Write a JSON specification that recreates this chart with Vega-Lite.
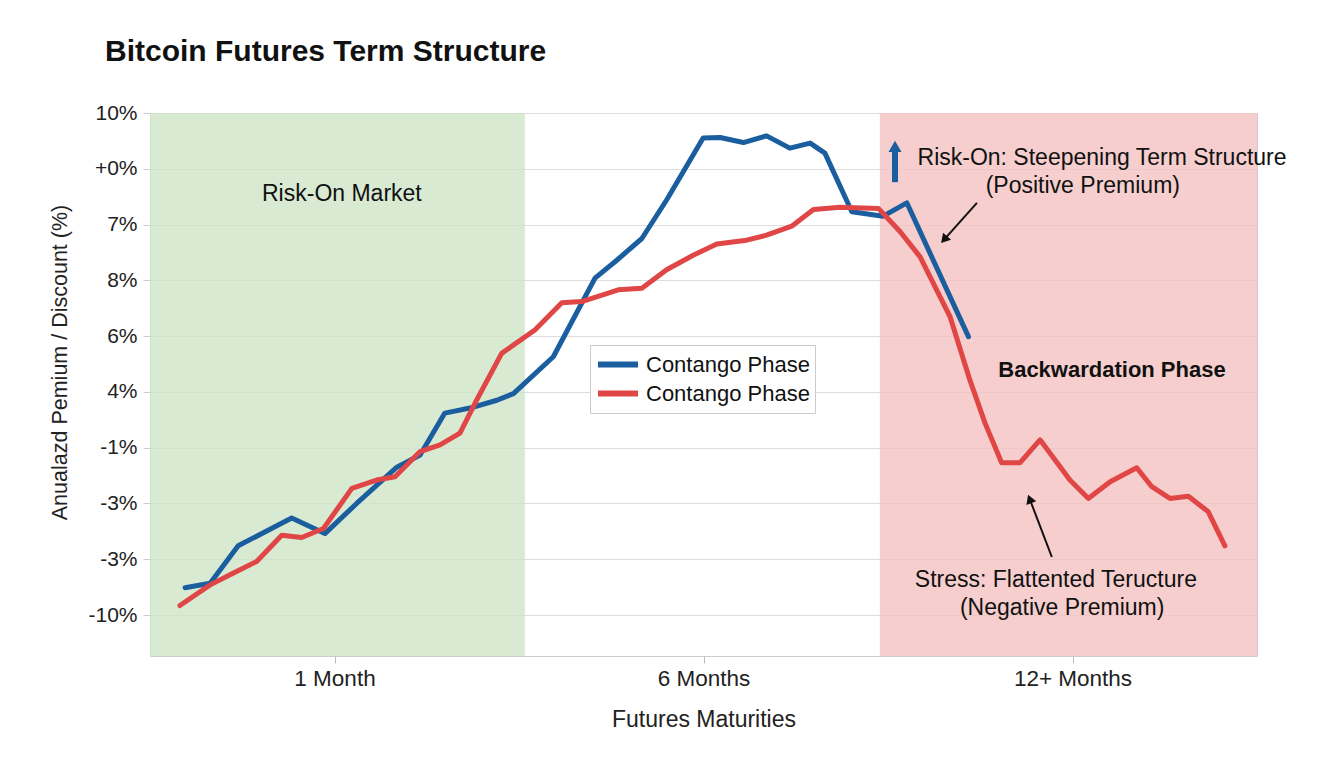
{
  "$schema": "https://vega.github.io/schema/vega-lite/v6.json",
  "width": 1107,
  "height": 543,
  "autosize": {"type": "none"},
  "padding": {"left": 150, "top": 113, "right": 87, "bottom": 112},
  "background": "white",
  "config": {
    "font": "Liberation Sans",
    "view": {"stroke": "#cccccc", "strokeWidth": 1}
  },
  "title": {
    "text": "Bitcoin Futures Term Structure",
    "anchor": "start",
    "frame": "group",
    "fontSize": 30,
    "fontWeight": "bold",
    "color": "#111111",
    "dx": -45,
    "offset": 35
  },
  "datasets": {
    "regions": [
      {"region": "Risk-On", "start": 0, "end": 10.16},
      {"region": "Backwardation", "start": 19.78, "end": 30}
    ],
    "series": [
      {"series": "blue", "x": 0.95, "y": 0.49},
      {"series": "blue", "x": 1.63, "y": 0.57},
      {"series": "blue", "x": 2.39, "y": 1.24},
      {"series": "blue", "x": 3.84, "y": 1.74},
      {"series": "blue", "x": 4.74, "y": 1.46},
      {"series": "blue", "x": 5.6, "y": 2.0},
      {"series": "blue", "x": 6.69, "y": 2.65},
      {"series": "blue", "x": 7.32, "y": 2.87},
      {"series": "blue", "x": 7.99, "y": 3.62},
      {"series": "blue", "x": 8.67, "y": 3.71},
      {"series": "blue", "x": 9.4, "y": 3.85},
      {"series": "blue", "x": 9.85, "y": 3.97},
      {"series": "blue", "x": 10.93, "y": 4.63},
      {"series": "blue", "x": 12.06, "y": 6.04},
      {"series": "blue", "x": 12.65, "y": 6.36},
      {"series": "blue", "x": 13.33, "y": 6.75},
      {"series": "blue", "x": 14.0, "y": 7.44},
      {"series": "blue", "x": 14.99, "y": 8.55},
      {"series": "blue", "x": 15.45, "y": 8.56},
      {"series": "blue", "x": 16.08, "y": 8.47},
      {"series": "blue", "x": 16.71, "y": 8.59},
      {"series": "blue", "x": 17.34, "y": 8.37},
      {"series": "blue", "x": 17.89, "y": 8.46},
      {"series": "blue", "x": 18.29, "y": 8.28},
      {"series": "blue", "x": 19.02, "y": 7.23},
      {"series": "blue", "x": 19.87, "y": 7.15},
      {"series": "blue", "x": 20.51, "y": 7.39},
      {"series": "blue", "x": 22.18, "y": 4.99},
      {"series": "red", "x": 0.81, "y": 0.17},
      {"series": "red", "x": 1.63, "y": 0.54},
      {"series": "red", "x": 2.25, "y": 0.75},
      {"series": "red", "x": 2.89, "y": 0.96},
      {"series": "red", "x": 3.57, "y": 1.43},
      {"series": "red", "x": 4.11, "y": 1.39},
      {"series": "red", "x": 4.7, "y": 1.55},
      {"series": "red", "x": 5.47, "y": 2.27},
      {"series": "red", "x": 6.14, "y": 2.42},
      {"series": "red", "x": 6.64, "y": 2.48},
      {"series": "red", "x": 7.32, "y": 2.93},
      {"series": "red", "x": 7.86, "y": 3.05},
      {"series": "red", "x": 8.4, "y": 3.26},
      {"series": "red", "x": 8.81, "y": 3.8},
      {"series": "red", "x": 9.53, "y": 4.69},
      {"series": "red", "x": 10.43, "y": 5.11},
      {"series": "red", "x": 11.16, "y": 5.6},
      {"series": "red", "x": 11.7, "y": 5.62},
      {"series": "red", "x": 12.69, "y": 5.83},
      {"series": "red", "x": 13.33, "y": 5.86},
      {"series": "red", "x": 14.0, "y": 6.19},
      {"series": "red", "x": 14.72, "y": 6.45},
      {"series": "red", "x": 15.36, "y": 6.65},
      {"series": "red", "x": 16.17, "y": 6.72},
      {"series": "red", "x": 16.71, "y": 6.81},
      {"series": "red", "x": 17.39, "y": 6.97},
      {"series": "red", "x": 17.98, "y": 7.27},
      {"series": "red", "x": 18.7, "y": 7.31},
      {"series": "red", "x": 19.74, "y": 7.29},
      {"series": "red", "x": 20.33, "y": 6.87},
      {"series": "red", "x": 20.87, "y": 6.42},
      {"series": "red", "x": 21.68, "y": 5.35},
      {"series": "red", "x": 22.22, "y": 4.21},
      {"series": "red", "x": 22.63, "y": 3.44},
      {"series": "red", "x": 23.08, "y": 2.73},
      {"series": "red", "x": 23.58, "y": 2.73},
      {"series": "red", "x": 24.12, "y": 3.14},
      {"series": "red", "x": 24.93, "y": 2.42},
      {"series": "red", "x": 25.43, "y": 2.09},
      {"series": "red", "x": 26.02, "y": 2.39},
      {"series": "red", "x": 26.74, "y": 2.64},
      {"series": "red", "x": 27.15, "y": 2.3},
      {"series": "red", "x": 27.64, "y": 2.09},
      {"series": "red", "x": 28.14, "y": 2.13},
      {"series": "red", "x": 28.68, "y": 1.85},
      {"series": "red", "x": 29.13, "y": 1.24}
    ],
    "notes": [
      {"text": "Risk-On Market", "x": 5.2, "y": 7.55, "kind": "plain"},
      {"text": "Risk-On: Steepening Term Structure", "x": 25.8, "y": 8.19, "kind": "plain"},
      {"text": "(Positive Premium)", "x": 25.28, "y": 7.69, "kind": "plain"},
      {"text": "Backwardation Phase", "x": 26.07, "y": 4.39, "kind": "bold"},
      {"text": "Stress: Flattented Teructure", "x": 24.55, "y": 0.63, "kind": "plain"},
      {"text": "(Negative Premium)", "x": 24.72, "y": 0.13, "kind": "plain"}
    ],
    "arrows": [
      {"arrow": "up", "x": 20.19, "y": 7.76, "x2": 20.19, "y2": 8.4},
      {"arrow": "riskon", "x": 22.41, "y": 7.39, "x2": 21.52, "y2": 6.73},
      {"arrow": "stress", "x": 24.44, "y": 1.04, "x2": 23.84, "y2": 2.08}
    ]
  },
  "encoding": {
    "x": {
      "type": "quantitative",
      "scale": {"domain": [0, 30], "nice": false, "zero": false}
    },
    "y": {
      "type": "quantitative",
      "scale": {"domain": [-0.735, 9], "nice": false, "zero": false}
    }
  },
  "layer": [
    {
      "data": {"name": "regions"},
      "mark": {"type": "rect", "opacity": 0.8},
      "encoding": {
        "x": {
          "field": "start",
          "type": "quantitative",
          "title": "Futures Maturities",
          "axis": {
            "values": [5, 15, 25],
            "labelExpr": "datum.value == 5 ? '1 Month' : datum.value == 15 ? '6 Months' : '12+ Months'",
            "grid": false,
            "domain": false,
            "tickSize": 7,
            "tickColor": "#bbbbbb",
            "labelFontSize": 22.5,
            "labelColor": "#222222",
            "labelPadding": 4,
            "titleFontSize": 23,
            "titleFontWeight": "normal",
            "titleColor": "#222222",
            "titlePadding": 19
          }
        },
        "x2": {"field": "end"},
        "color": {
          "condition": {"test": "datum.region === 'Risk-On'", "value": "#cfe5c8"},
          "value": "#f2c2c0"
        }
      }
    },
    {
      "data": {"name": "series"},
      "mark": {"type": "line", "strokeWidth": 5, "strokeCap": "round", "strokeJoin": "round"},
      "encoding": {
        "x": {"field": "x", "type": "quantitative"},
        "y": {
          "field": "y",
          "type": "quantitative",
          "title": "Anualazd Pemium / Discount (%)",
          "axis": {
            "values": [0, 1, 2, 3, 4, 5, 6, 7, 8, 9],
            "labelExpr": "['-10%','-3%','-3%','-1%','4%','6%','8%','7%','+0%','10%'][datum.value]",
            "grid": true,
            "gridColor": "#dddddd",
            "domain": false,
            "tickSize": 7,
            "tickColor": "#cccccc",
            "labelFontSize": 21,
            "labelColor": "#222222",
            "labelPadding": 6,
            "titleFontSize": 21.5,
            "titleFontWeight": "normal",
            "titleColor": "#222222",
            "titlePadding": 16,
            "titleY": 249
          }
        },
        "color": {
          "field": "series",
          "type": "nominal",
          "scale": {"domain": ["blue", "red"], "range": ["#1a5e9f", "#e04646"]},
          "legend": {
            "title": null,
            "orient": "none",
            "legendX": 440,
            "legendY": 232,
            "labelExpr": "'Contango Phase'",
            "labelFontSize": 22,
            "labelLimit": 400,
            "labelColor": "#111111",
            "symbolType": "stroke",
            "symbolStrokeWidth": 6,
            "symbolSize": 1600,
            "clipHeight": 29,
            "strokeColor": "#cccccc",
            "fillColor": "white",
            "padding": 5,
            "rowPadding": 0,
            "labelOffset": 5
          }
        },
        "detail": {"field": "series"}
      }
    },
    {
      "data": {"name": "notes"},
      "transform": [{"filter": "datum.kind === 'plain'"}],
      "mark": {"type": "text", "fontSize": 23, "align": "center", "baseline": "middle", "color": "#111111"},
      "encoding": {
        "x": {"field": "x", "type": "quantitative"},
        "y": {"field": "y", "type": "quantitative"},
        "text": {"field": "text"}
      }
    },
    {
      "data": {"name": "notes"},
      "transform": [{"filter": "datum.kind === 'bold'"}],
      "mark": {"type": "text", "fontSize": 22, "fontWeight": "bold", "align": "center", "baseline": "middle", "color": "#111111"},
      "encoding": {
        "x": {"field": "x", "type": "quantitative"},
        "y": {"field": "y", "type": "quantitative"},
        "text": {"field": "text"}
      }
    },
    {
      "data": {"name": "arrows"},
      "transform": [{"filter": "datum.arrow === 'up'"}],
      "mark": {"type": "rule", "strokeWidth": 6, "color": "#1a5e9f"},
      "encoding": {
        "x": {"field": "x", "type": "quantitative"},
        "y": {"field": "y", "type": "quantitative"},
        "x2": {"field": "x2"},
        "y2": {"field": "y2"}
      }
    },
    {
      "data": {"name": "arrows"},
      "transform": [{"filter": "datum.arrow !== 'up'"}],
      "mark": {"type": "rule", "strokeWidth": 2, "color": "#111111"},
      "encoding": {
        "x": {"field": "x", "type": "quantitative"},
        "y": {"field": "y", "type": "quantitative"},
        "x2": {"field": "x2"},
        "y2": {"field": "y2"}
      }
    },
    {
      "data": {"name": "arrows"},
      "transform": [{"filter": "datum.arrow === 'up'"}],
      "mark": {"type": "point", "shape": "triangle-up", "filled": true, "size": 170, "opacity": 1, "color": "#1a5e9f"},
      "encoding": {
        "x": {"field": "x2", "type": "quantitative"},
        "y": {"field": "y2", "type": "quantitative"}
      }
    },
    {
      "data": {"name": "arrows"},
      "transform": [{"filter": "datum.arrow === 'riskon'"}],
      "mark": {"type": "point", "shape": "triangle-up", "filled": true, "size": 110, "opacity": 1, "color": "#111111", "angle": 221},
      "encoding": {
        "x": {"field": "x2", "type": "quantitative"},
        "y": {"field": "y2", "type": "quantitative"}
      }
    },
    {
      "data": {"name": "arrows"},
      "transform": [{"filter": "datum.arrow === 'stress'"}],
      "mark": {"type": "point", "shape": "triangle-up", "filled": true, "size": 110, "opacity": 1, "color": "#111111", "angle": 339},
      "encoding": {
        "x": {"field": "x2", "type": "quantitative"},
        "y": {"field": "y2", "type": "quantitative"}
      }
    }
  ]
}
